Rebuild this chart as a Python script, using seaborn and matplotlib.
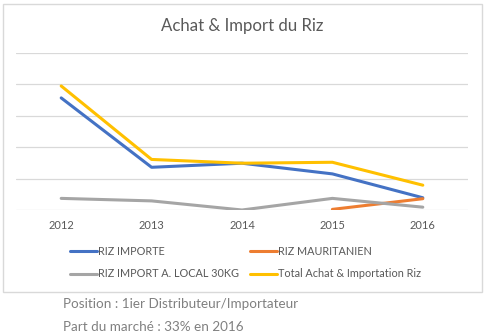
import matplotlib
matplotlib.use("Agg")
import matplotlib.pyplot as plt
import seaborn as sns
import pandas as pd
import numpy as np
from matplotlib.patches import Rectangle
from matplotlib.lines import Line2D

years = ["2012", "2013", "2014", "2015", "2016"]
riz_importe = [3.57, 1.36, 1.49, 1.15, 0.39]
riz_mauritanien = [np.nan, np.nan, np.nan, 0.02, 0.36]
riz_local = [0.37, 0.29, 0.0, 0.37, 0.09]
total = [3.95, 1.61, 1.49, 1.52, 0.79]

series_names = ["RIZ IMPORTE", "RIZ MAURITANIEN", "RIZ IMPORT A. LOCAL 30KG",
                "Total Achat & Importation Riz"]
colors = ["#4472C4", "#ED7D31", "#A5A5A5", "#FFC000"]

rows = []
for name, vals in zip(series_names, [riz_importe, riz_mauritanien, riz_local, total]):
    for y, v in zip(years, vals):
        rows.append({"year": y, "value": v, "series": name})
df = pd.DataFrame(rows)

sns.set_style("white")
plt.rcParams["font.family"] = ["Lato", "DejaVu Sans"]

W, H = 490, 336
fig = plt.figure(figsize=(W / 100, H / 100), dpi=100)
fig.patch.set_facecolor("white")

# chart border
fig.patches.append(Rectangle((3 / W, 1 - 292 / H), (482 - 3) / W, (292 - 4) / H,
                             transform=fig.transFigure, fill=False,
                             edgecolor="#D9D9D9", linewidth=1.0))

ax = fig.add_axes([16 / W, 1 - 210 / H, 452 / W, (210 - 53) / H])
sns.lineplot(data=df, x="year", y="value", hue="series", hue_order=series_names,
             palette=colors, linewidth=2.2, ax=ax, legend=False, sort=False)

ax.set_xlim(-0.5, 4.5)
ax.set_ylim(0, 5)
ax.set_yticks(np.arange(0, 6, 1))
ax.set_yticklabels([])
ax.tick_params(axis="y", length=0)
ax.tick_params(axis="x", length=0, labelsize=8, labelcolor="#595959", pad=7)
ax.grid(axis="y", color="#D9D9D9", linewidth=0.9)
ax.grid(axis="x", visible=False)
for s in ax.spines.values():
    s.set_visible(False)
ax.set_xlabel("")
ax.set_ylabel("")
ax.set_axisbelow(True)

fig.text(242 / W, 1 - 26 / H, "Achat & Import du Riz", ha="center", va="center",
         fontsize=12.1, color="#595959")

# legend
order = [0, 2, 1, 3]
handles = [Line2D([], [], color=colors[i], linewidth=2.2) for i in order]
labels = [series_names[i] for i in order]
fig.legend(handles, labels, ncol=2, loc="upper left",
           bbox_to_anchor=(70 / W, 1 - 246 / H), frameon=False,
           borderpad=0, borderaxespad=0,
           fontsize=7.8, labelcolor="#595959", handlelength=2.5, handletextpad=0.1,
           columnspacing=1.0, labelspacing=1.05)

fig.text(63 / W, 1 - 304 / H, "Position : 1ier Distributeur/Importateur",
         ha="left", va="center", fontsize=9.7, color="#808080")
fig.text(63 / W, 1 - 327 / H, "Part du marché : 33% en 2016",
         ha="left", va="center", fontsize=9.7, color="#808080")

fig.savefig("out.png", dpi=100)
